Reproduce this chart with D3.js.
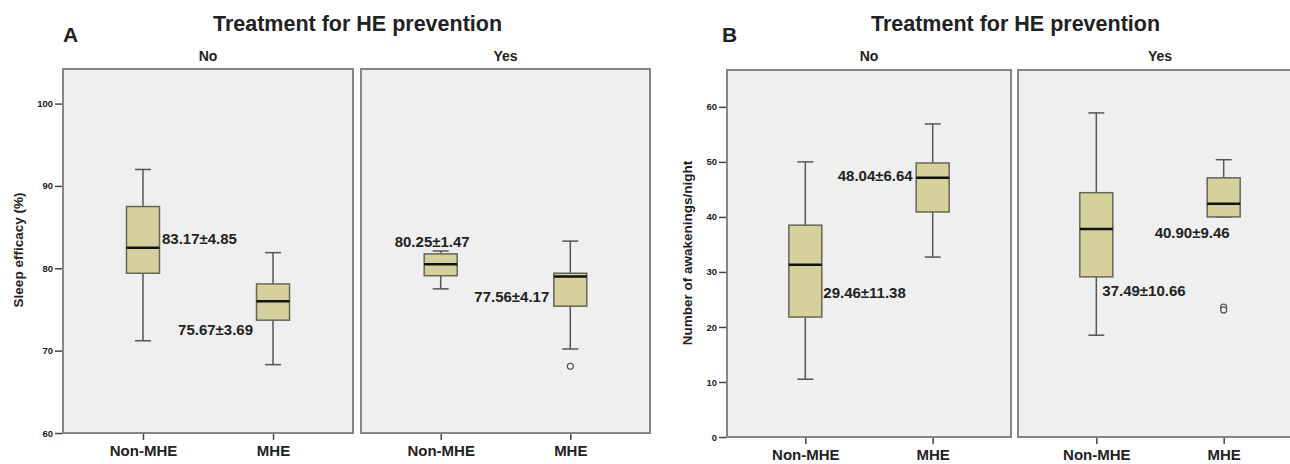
<!DOCTYPE html>
<html>
<head>
<meta charset="utf-8">
<script src="https://cdn.jsdelivr.net/npm/d3@7"></script>
<style>
    body { margin: 0; background: #fff; }
    svg text { font-family: "Liberation Sans", Arial, sans-serif; font-weight: bold; fill: #222; }
</style>
</head>
<body>
<svg id="chart" width="1290" height="464"></svg>
<script>
// categories
const facets = ["No", "Yes"];
const groups = ["Non-MHE", "MHE"];

// box stats per group: [lower whisker, q1, median, q3, upper whisker]
const efficacyNo = [[71.2, 79.4, 82.5, 87.5, 92.0], [68.3, 73.7, 76.0, 78.1, 81.9]];
const efficacyYes = [[77.5, 79.1, 80.5, 81.75, 82.1], [70.2, 75.4, 79.0, 79.4, 83.3]];
const efficacyOutliersNo = [[], []];
const efficacyOutliersYes = [[], [68.1]];
const efficacyTextNo = ["83.17±4.85", "75.67±3.69"];
const efficacyTextYes = ["80.25±1.47", "77.56±4.17"];

const awakeNo = [[10.5, 21.8, 31.3, 38.5, 50.0], [32.7, 40.9, 47.1, 49.8, 56.9]];
const awakeYes = [[18.5, 29.1, 37.8, 44.4, 58.9], [40.0, 40.0, 42.4, 47.1, 50.4]];
const awakeOutliersNo = [[], []];
const awakeOutliersYes = [[], [23.6, 23.1]];
const awakeTextNo = ["29.46±11.38", "48.04±6.64"];
const awakeTextYes = ["37.49±10.66", "40.90±9.46"];

const efficacyTicks = [60, 70, 80, 90, 100];
const awakeTicks = [0, 10, 20, 30, 40, 50, 60];

const svg = d3.select("#chart");

function drawPanel(cfg) {
    const y = d3.scaleLinear().domain(cfg.domain).range([cfg.bottom, cfg.top]);

    svg.append("text")
        .attr("x", cfg.letterX).attr("y", 42)
        .style("font-size", "21px")
        .text(cfg.letter);

    svg.append("text")
        .attr("x", (cfg.facetX[0][0] + cfg.facetX[1][1]) / 2 + 1).attr("y", 31)
        .attr("text-anchor", "middle")
        .style("font-size", "21.5px")
        .text("Treatment for HE prevention");

    svg.append("text")
        .attr("transform", `translate(${cfg.ylabelX},${cfg.ylabelY}) rotate(-90)`)
        .attr("text-anchor", "middle")
        .style("font-size", "13.5px")
        .text(cfg.ylabel);

    const yAxis = svg.append("g")
        .attr("transform", `translate(${cfg.facetX[0][0]},0)`)
        .call(d3.axisLeft(y).tickValues(cfg.ticks).tickSize(8).tickPadding(2).tickSizeOuter(0));
    yAxis.select(".domain").remove();
    yAxis.selectAll("line").attr("stroke", "#444").attr("stroke-width", 1.5);
    yAxis.selectAll("text").style("font-size", "9.5px").attr("fill", "#333");

    facets.forEach((f, fi) => {
        const [x0, x1] = cfg.facetX[fi];
        const x = d3.scalePoint().domain(groups).range([x0, x1]).padding(0.615);
        const g = svg.append("g");

        svg.append("text")
            .attr("x", (x0 + x1) / 2).attr("y", 61)
            .attr("text-anchor", "middle")
            .style("font-size", "14px")
            .text(f);

        g.append("rect")
            .attr("x", x0).attr("y", cfg.top)
            .attr("width", x1 - x0).attr("height", cfg.bottom - cfg.top)
            .attr("fill", "#efefef").attr("stroke", "#858585").attr("stroke-width", 2);

        const xAxis = svg.append("g")
            .attr("transform", `translate(0,${cfg.bottom + 1})`)
            .call(d3.axisBottom(x).tickSize(6).tickPadding(5).tickSizeOuter(0));
        xAxis.select(".domain").remove();
        xAxis.selectAll("line").attr("stroke", "#444").attr("stroke-width", 1.5);
        xAxis.selectAll("text").style("font-size", "15px").attr("fill", "#222");

        const stats = cfg.stats[fi];
        const half = 16.5;
        groups.forEach((grp, gi) => {
            const s = stats[gi];
            const cx = x(grp);
            g.append("line")
                .attr("x1", cx).attr("x2", cx).attr("y1", y(s[0])).attr("y2", y(s[4]))
                .attr("stroke", "#555").attr("stroke-width", 1.5);
            [s[0], s[4]].forEach(v => {
                g.append("line")
                    .attr("x1", cx - 8).attr("x2", cx + 8).attr("y1", y(v)).attr("y2", y(v))
                    .attr("stroke", "#555").attr("stroke-width", 1.5);
            });
            g.append("rect")
                .attr("x", cx - half).attr("y", y(s[3]))
                .attr("width", half * 2).attr("height", y(s[1]) - y(s[3]))
                .attr("fill", "#d6d09c").attr("stroke", "#666655").attr("stroke-width", 1.5);
            g.append("line")
                .attr("x1", cx - half).attr("x2", cx + half).attr("y1", y(s[2])).attr("y2", y(s[2]))
                .attr("stroke", "#111").attr("stroke-width", 2.5);
            cfg.outliers[fi][gi].forEach(v => {
                g.append("circle")
                    .attr("cx", cx).attr("cy", y(v)).attr("r", 3)
                    .attr("fill", "#f4f4f4").attr("stroke", "#555").attr("stroke-width", 1.2);
            });
            const lab = cfg.labelAt[fi][gi];
            g.append("text")
                .attr("x", cx + lab[0]).attr("y", y(lab[1]))
                .attr("dy", "0.35em")
                .attr("text-anchor", lab[2])
                .style("font-size", "15px")
                .text(cfg.texts[fi][gi]);
        });
    });
}

drawPanel({
    letter: "A", letterX: 63,
    ylabel: "Sleep efficacy (%)", ylabelX: 23, ylabelY: 250,
    domain: [60, 104.2], ticks: efficacyTicks,
    top: 69, bottom: 433,
    facetX: [[63, 353], [361, 650]],
    stats: [efficacyNo, efficacyYes],
    outliers: [efficacyOutliersNo, efficacyOutliersYes],
    texts: [efficacyTextNo, efficacyTextYes],
    labelAt: [[[19, 83.6, "start"], [-20, 72.5, "end"]], [[-46, 83.2, "start"], [-21, 76.6, "end"]]]
});

drawPanel({
    letter: "B", letterX: 722,
    ylabel: "Number of awakenings/night", ylabelX: 692, ylabelY: 253,
    domain: [0, 66.7], ticks: awakeTicks,
    top: 70, bottom: 437,
    facetX: [[727, 1011], [1018, 1302]],
    stats: [awakeNo, awakeYes],
    outliers: [awakeOutliersNo, awakeOutliersYes],
    texts: [awakeTextNo, awakeTextYes],
    labelAt: [[[18, 26.2, "start"], [-20, 47.5, "end"]], [[6, 26.5, "start"], [-69, 37.1, "start"]]]
});
</script>
</body>
</html>
